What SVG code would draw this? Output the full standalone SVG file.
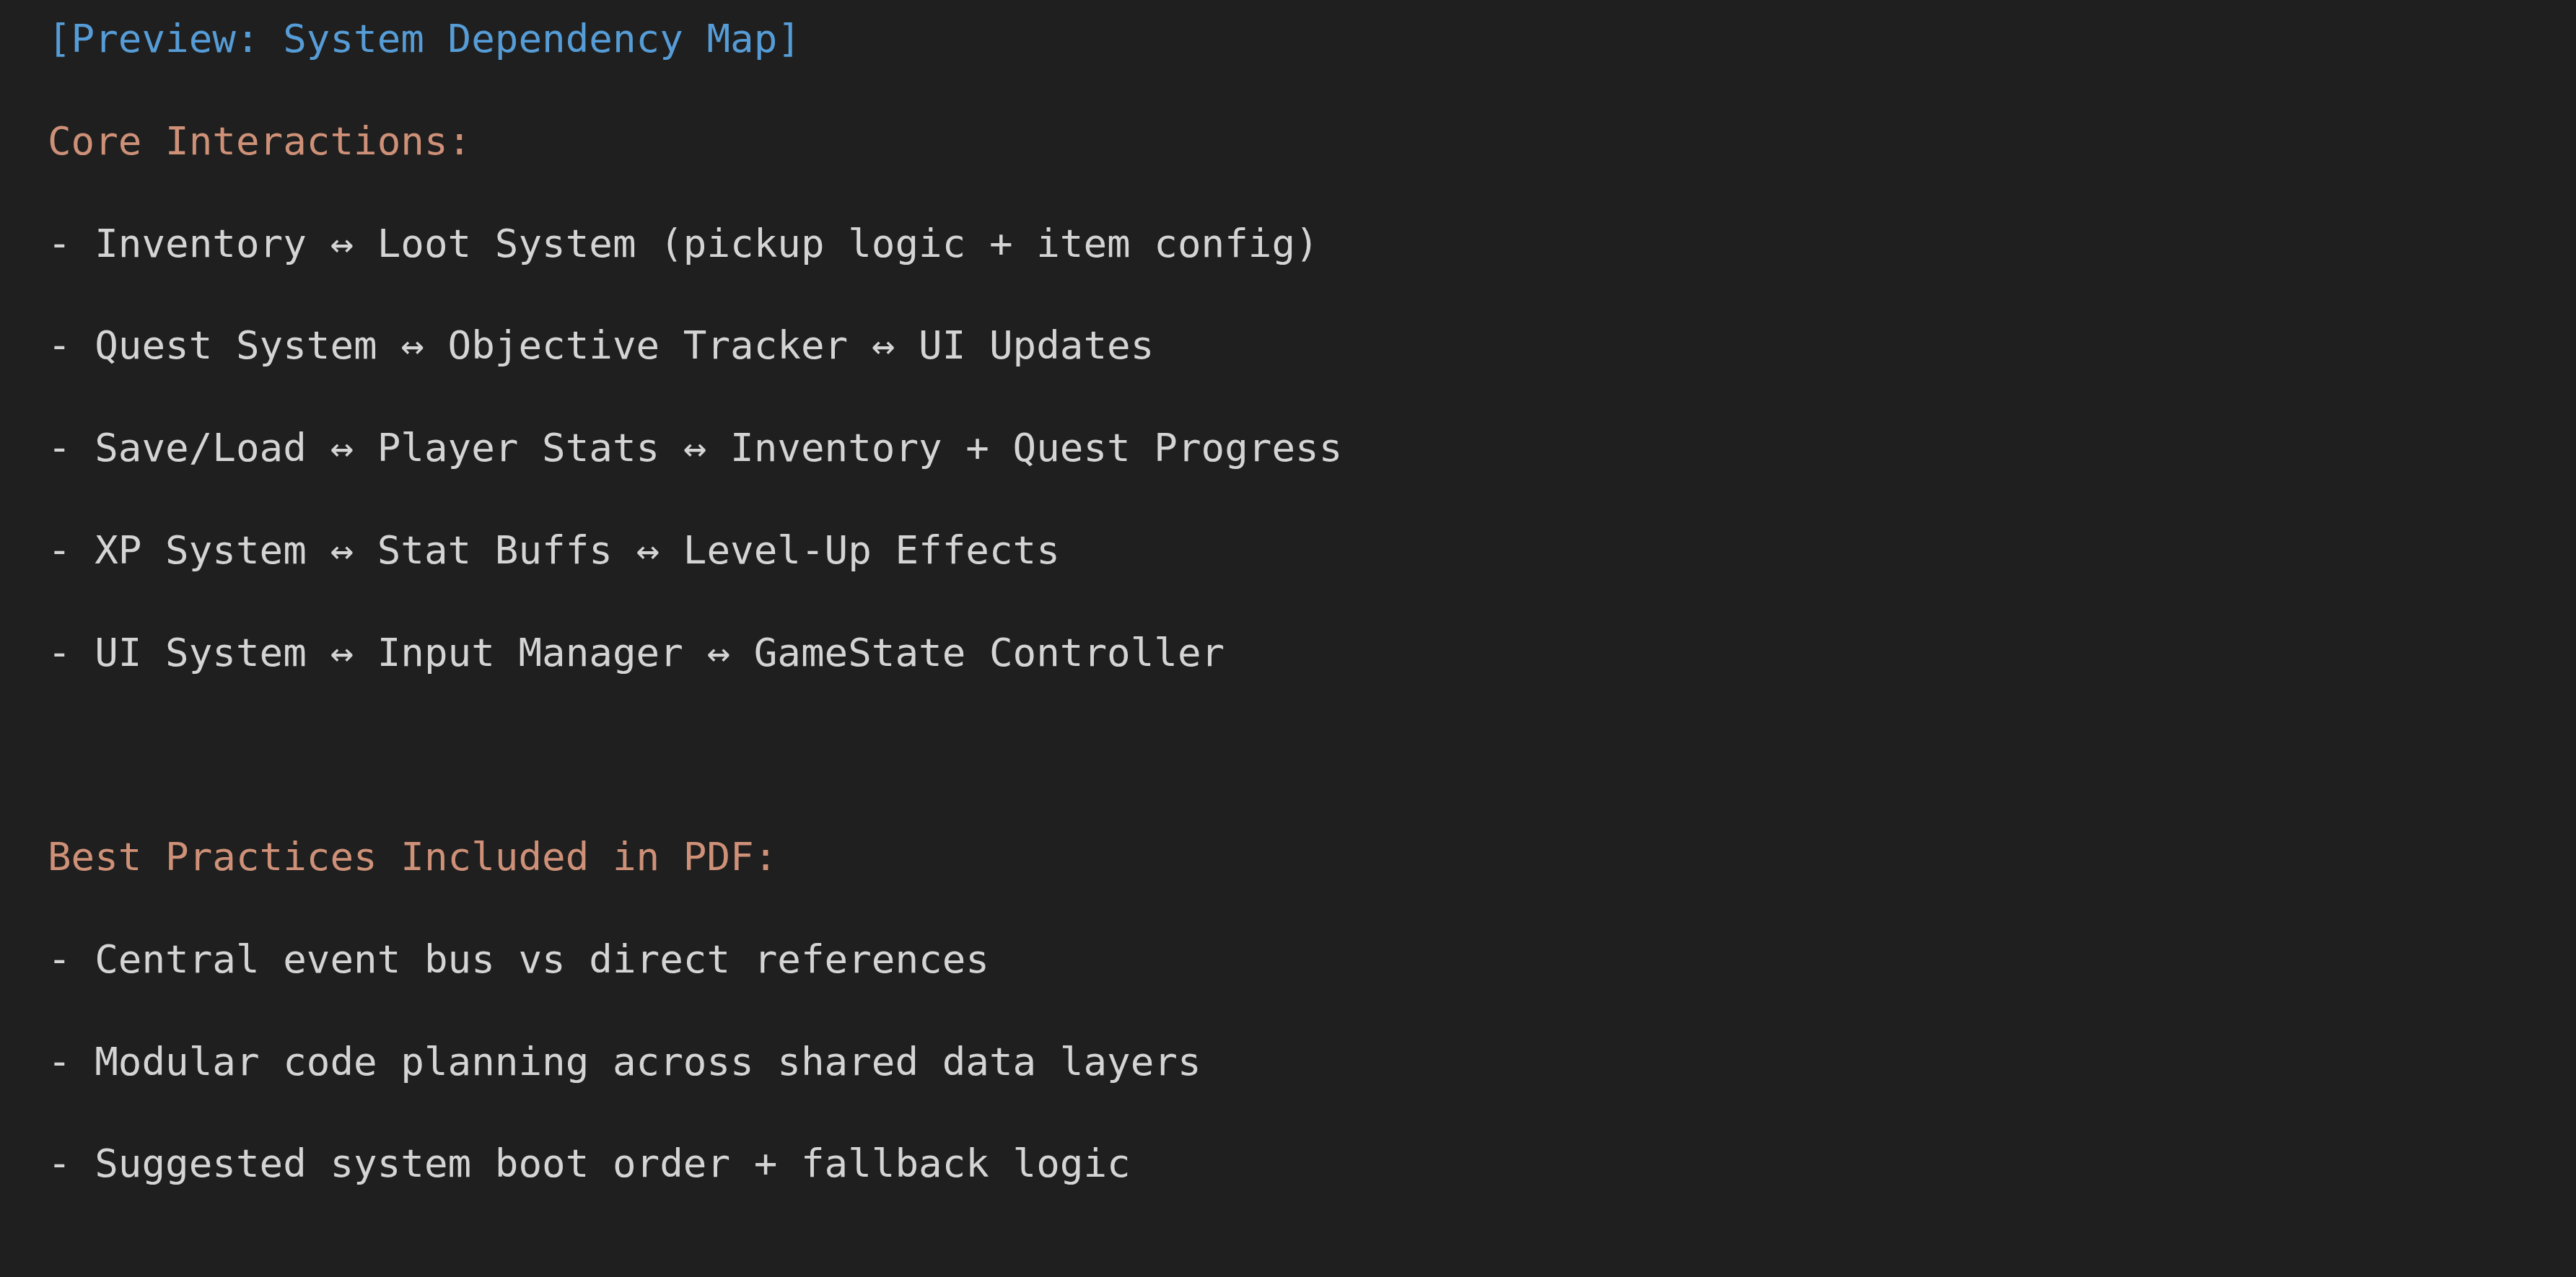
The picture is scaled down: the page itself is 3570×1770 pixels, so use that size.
<svg xmlns="http://www.w3.org/2000/svg" width="3570" height="1770" viewBox="0 0 3570 1770">
<style>
text{font-family:"DejaVu Sans Mono","Liberation Mono",monospace;font-size:54.2px;white-space:pre}
.t{fill:#569cd6}
.h{fill:#ce9178}
.b{fill:#d4d4d4}
</style>
<rect width="3570" height="1770" fill="#1f1f1f"/>
<g id="title"><text class="t" x="66" y="72">[Preview: System Dependency Map]</text></g>
<g id="core">
<text class="h" x="66" y="213.75">Core Interactions:</text>
<text class="b" x="66" y="355.5">- Inventory ↔ Loot System (pickup logic + item config)</text>
<text class="b" x="66" y="497.25">- Quest System ↔ Objective Tracker ↔ UI Updates</text>
<text class="b" x="66" y="639">- Save/Load ↔ Player Stats ↔ Inventory + Quest Progress</text>
<text class="b" x="66" y="780.75">- XP System ↔ Stat Buffs ↔ Level-Up Effects</text>
<text class="b" x="66" y="922.5">- UI System ↔ Input Manager ↔ GameState Controller</text>
</g>
<g id="best">
<text class="h" x="66" y="1206">Best Practices Included in PDF:</text>
<text class="b" x="66" y="1347.75">- Central event bus vs direct references</text>
<text class="b" x="66" y="1489.5">- Modular code planning across shared data layers</text>
<text class="b" x="66" y="1631.25">- Suggested system boot order + fallback logic</text>
</g>
</svg>
